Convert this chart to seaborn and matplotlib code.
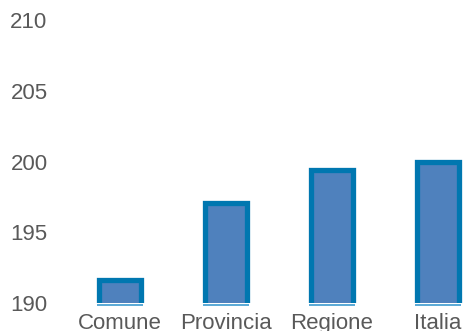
import matplotlib
matplotlib.use('Agg')
import matplotlib.pyplot as plt
import seaborn as sns
import pandas as pd

# Data
categories = ['Comune', 'Provincia', 'Regione', 'Italia']
values = [191.65, 197.1, 199.4, 200.0]
y_ticks = [190, 195, 200, 205, 210]

FILL = '#4F81BD'
EDGE = '#0077B0'
TEXT = '#595959'

sns.set_theme(style='white')
plt.rcParams['font.family'] = ['Liberation Sans', 'DejaVu Sans']

df = pd.DataFrame({'Area': categories, 'Valore': values})

fig = plt.figure(figsize=(4.63, 3.31), dpi=100)
ax = fig.add_axes([67 / 463, 28 / 331, (463 - 67) / 463, (303 - 20) / 331])

sns.barplot(data=df, x='Area', y='Valore', ax=ax, color=FILL,
            width=0.4, edgecolor=EDGE, linewidth=3.8, saturation=1)

# thin light baseline under each bar
for p in ax.patches:
    ax.plot([p.get_x() - 0.02, p.get_x() + p.get_width() + 0.02], [189.88, 189.88],
            color='#3D9BCF', lw=1.2, clip_on=False, solid_capstyle='butt')

ax.set_ylim(190, 210)
ax.set_xlim(-0.5, 3.236)
ax.set_yticks(y_ticks)
ax.set_xlabel('')
ax.set_ylabel('')
ax.tick_params(axis='y', length=0, pad=14.0, labelsize=16, labelcolor=TEXT)
ax.tick_params(axis='x', length=0, pad=7.0, labelsize=16, labelcolor=TEXT)
for s in ax.spines.values():
    s.set_visible(False)
ax.grid(False)

fig.savefig('out.png', dpi=100)
